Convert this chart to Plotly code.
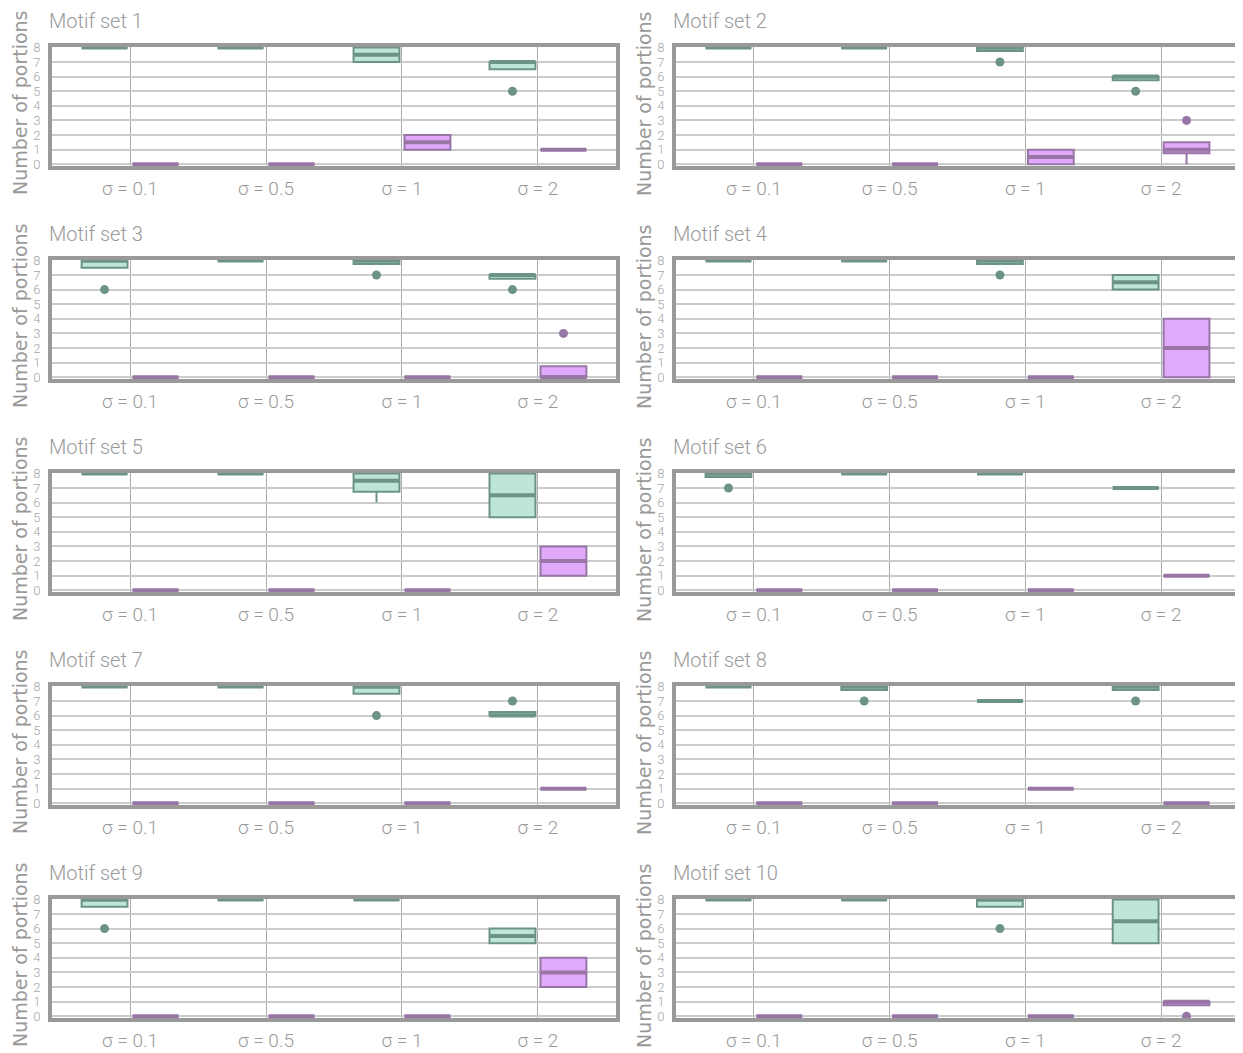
import plotly.graph_objects as go

# The page body has an 8px margin, so positions below are page pixels minus OFF.
OFF = 8
W, H = 1243 - OFF, 1053 - OFF

categories = ["σ = 0.1", "σ = 0.5", "σ = 1", "σ = 2"]
panel_titles = [f"Motif set {i}" for i in range(1, 11)]
y_title = "Number of portions"
y_ticks = [0, 1, 2, 3, 4, 5, 6, 7, 8]

# Green series box statistics (one row per motif set, one value per sigma)
g_q1 = [[8, 8, 7, 6.5], [8, 8, 7.75, 5.75], [7.5, 8, 7.75, 6.75], [8, 8, 7.75, 6], [8, 8, 6.75, 5],
        [7.75, 8, 8, 7], [8, 8, 7.5, 6], [8, 7.75, 7, 7.75], [7.5, 8, 8, 5], [8, 8, 7.5, 5]]
g_med = [[8, 8, 7.5, 7], [8, 8, 8, 6], [8, 8, 8, 7], [8, 8, 8, 6.5], [8, 8, 7.5, 6.5],
         [8, 8, 8, 7], [8, 8, 8, 6], [8, 8, 7, 8], [8, 8, 8, 5.5], [8, 8, 8, 6.5]]
g_q3 = [[8, 8, 8, 7], [8, 8, 8, 6], [8, 8, 8, 7], [8, 8, 8, 7], [8, 8, 8, 8],
        [8, 8, 8, 7], [8, 8, 8, 6.25], [8, 8, 7, 8], [8, 8, 8, 6], [8, 8, 8, 8]]
g_lo = [[8, 8, 7, 6.5], [8, 8, 7.75, 5.75], [7.5, 8, 7.75, 6.75], [8, 8, 7.75, 6], [8, 8, 6, 5],
        [7.75, 8, 8, 7], [8, 8, 7.5, 6], [8, 7.75, 7, 7.75], [7.5, 8, 8, 5], [8, 8, 7.5, 5]]
g_hi = g_q3
# Green outliers: (sigma index, value)
g_out = [[(3, 5)], [(2, 7), (3, 5)], [(0, 6), (2, 7), (3, 6)], [(2, 7)], [],
         [(0, 7)], [(2, 6), (3, 7)], [(1, 7), (3, 7)], [(0, 6)], [(2, 6)]]

# Purple series box statistics
p_q1 = [[0, 0, 1, 1], [0, 0, 0, 0.75], [0, 0, 0, 0], [0, 0, 0, 0], [0, 0, 0, 1],
        [0, 0, 0, 1], [0, 0, 0, 1], [0, 0, 1, 0], [0, 0, 0, 2], [0, 0, 0, 0.75]]
p_med = [[0, 0, 1.5, 1], [0, 0, 0.5, 1], [0, 0, 0, 0], [0, 0, 0, 2], [0, 0, 0, 2],
         [0, 0, 0, 1], [0, 0, 0, 1], [0, 0, 1, 0], [0, 0, 0, 3], [0, 0, 0, 1]]
p_q3 = [[0, 0, 2, 1], [0, 0, 1, 1.5], [0, 0, 0, 0.75], [0, 0, 0, 4], [0, 0, 0, 3],
        [0, 0, 0, 1], [0, 0, 0, 1], [0, 0, 1, 0], [0, 0, 0, 4], [0, 0, 0, 1]]
p_lo = [[0, 0, 1, 1], [0, 0, 0, 0], [0, 0, 0, 0], [0, 0, 0, 0], [0, 0, 0, 1],
        [0, 0, 0, 1], [0, 0, 0, 1], [0, 0, 1, 0], [0, 0, 0, 2], [0, 0, 0, 0.75]]
p_hi = p_q3
p_out = [[], [(3, 3)], [(3, 3)], [], [], [], [], [], [], [(3, 0)]]

G_FILL, G_LINE = "#bde6d8", "#6c9486"
P_FILL, P_LINE = "#e0a9fb", "#9776a6"
NARROW = "Liberation Sans Narrow, Roboto, Liberation Sans, sans-serif"
TXT = "#999999"


def px(p):
    return (p - OFF) / W


def py(p):
    return 1 - (p - OFF) / H


fig = go.Figure()
annotations = []

for i in range(10):
    r, c = divmod(i, 2)
    n = "" if i == 0 else str(i + 1)
    xa, ya = "x" + n, "y" + n
    ag = f"a{i}"
    series = [
        ("g", G_FILL, G_LINE, g_q1[i], g_med[i], g_q3[i], g_lo[i], g_hi[i], g_out[i]),
        ("p", P_FILL, P_LINE, p_q1[i], p_med[i], p_q3[i], p_lo[i], p_hi[i], p_out[i]),
    ]
    for og, fill, line, q1, med, q3, lo, hi, outs in series:
        fig.add_trace(go.Box(
            x=categories, q1=q1, median=med, q3=q3, lowerfence=lo, upperfence=hi,
            xaxis=xa, yaxis=ya, offsetgroup=og, alignmentgroup=ag,
            fillcolor=fill, line=dict(color=line, width=2), whiskerwidth=0,
            boxpoints=False, showlegend=False, hoverinfo="skip"))
    for og, fill, line, q1, med, q3, lo, hi, outs in series:
        # thicker median bar
        fig.add_trace(go.Box(
            x=categories, q1=med, median=med, q3=med, lowerfence=med, upperfence=med,
            xaxis=xa, yaxis=ya, offsetgroup=og, alignmentgroup=ag,
            fillcolor="rgba(0,0,0,0)", line=dict(color=line, width=4), whiskerwidth=0,
            boxpoints=False, showlegend=False, hoverinfo="skip"))
    for og, fill, line, q1, med, q3, lo, hi, outs in series:
        fig.add_trace(go.Box(
            x=[categories[k] for k, v in outs], y=[v for k, v in outs],
            xaxis=xa, yaxis=ya, offsetgroup=og, alignmentgroup=ag,
            fillcolor="rgba(0,0,0,0)", line=dict(color="rgba(0,0,0,0)", width=0),
            boxpoints="all", jitter=0, pointpos=0,
            marker=dict(color=line, size=9, line=dict(width=0)),
            showlegend=False, hoverinfo="skip"))

    x0 = px(52 if c == 0 else 676)
    x1 = px(616 if c == 0 else 1239)
    top = 46.5 + 213 * r
    bot = 166 + 213 * r
    xkey = "xaxis" + n
    ykey = "yaxis" + n
    fig.layout[xkey] = dict(
        domain=[x0, x1], anchor=ya, type="category",
        categoryorder="array", categoryarray=categories,
        range=[-0.574, 3.574], showgrid=True, gridcolor="#ababab", gridwidth=1,
        showline=True, linecolor="#999999", linewidth=4, mirror=True,
        ticks="", tickfont=dict(family=NARROW, size=19, color=TXT, weight=300),
        ticklabelstandoff=2, automargin=False, zeroline=False, fixedrange=True)
    fig.layout[ykey] = dict(
        domain=[py(bot), py(top)], anchor=xa,
        range=[-0.12, 8.06], tickvals=y_ticks, ticktext=[str(t) for t in y_ticks],
        showgrid=True, gridcolor="#cbcbcb", gridwidth=2,
        showline=True, linecolor="#999999", linewidth=4, mirror=True,
        ticks="", tickfont=dict(family=NARROW, size=13, color="#a5a5a5", weight=300),
        ticklabelstandoff=5, automargin=False, zeroline=False, fixedrange=True)

    annotations.append(dict(
        text=panel_titles[i], xref="paper", yref="paper",
        x=px(48 if c == 0 else 672), y=py(21 + 213 * r),
        xanchor="left", yanchor="middle", showarrow=False, borderpad=0,
        font=dict(family=NARROW, size=20, color=TXT, weight=300)))
    annotations.append(dict(
        text=y_title, xref="paper", yref="paper",
        x=px(20 if c == 0 else 644), y=py(103 + 213 * r),
        xanchor="center", yanchor="middle", textangle=-90, showarrow=False,
        font=dict(family="DejaVu Sans, sans-serif", size=19, color=TXT)))

fig.update_layout(
    width=W, height=H, autosize=False,
    margin=dict(l=0, r=0, t=0, b=0),
    paper_bgcolor="white", plot_bgcolor="white",
    boxmode="group", boxgap=0.25, boxgroupgap=0.1,
    annotations=annotations, showlegend=False)

fig.write_html("out.html")
